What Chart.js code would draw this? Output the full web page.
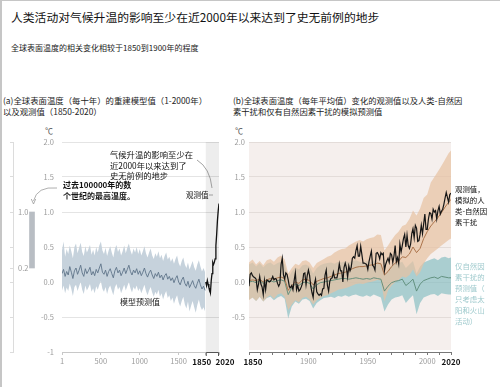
<!DOCTYPE html>
<html>
<head>
<meta charset="utf-8">
<script src="https://cdn.jsdelivr.net/npm/chart.js@4.4.1/dist/chart.umd.min.js"></script>
<style>
  html, body { margin: 0; padding: 0; background: #fff; }
  #page { position: relative; width: 500px; height: 387px; overflow: hidden;
          font-family: "Noto Sans CJK SC", "Noto Sans", sans-serif; color: #222; }
  .t { position: absolute; white-space: nowrap; }
  canvas { position: absolute; }
  #frame { position: absolute; left: 0; top: 0; width: 500px; height: 387px; box-sizing: border-box;
           border-left: 2px solid #c6c6c6; border-top: 1px solid #c6c6c6; pointer-events: none; }
</style>
</head>
<body>
<div id="page">
  <div class="t" style="left:11px;top:10px;font-size:11.8px;line-height:14px;color:#111;">人类活动对气候升温的影响至少在近2000年以来达到了史无前例的地步</div>
  <div class="t" style="left:11px;top:43px;font-size:8px;line-height:10px;color:#222;">全球表面温度的相关变化相较于1850到1900年的程度</div>

  <div class="t" style="left:3px;top:95px;font-size:8.4px;line-height:11px;color:#222;">(a)全球表面温度（每十年）的重建模型值（1-2000年）<br>以及观测值（1850-2020）</div>
  <div class="t" style="left:233px;top:95px;font-size:8.3px;line-height:11px;color:#222;">(b)全球表面温度（每年平均值）变化的观测值以及人类-自然因<br>素干扰和仅有自然因素干扰的模拟预测值</div>

  <div class="t" style="left:45px;top:126px;font-size:8px;line-height:10px;color:#555;">℃</div>
  <div class="t" style="left:235px;top:126px;font-size:8px;line-height:10px;color:#555;">℃</div>

  <canvas id="inset" width="51" height="250" style="left:0;top:120px;"></canvas>
  <canvas id="chartA" width="214" height="250" style="left:30px;top:120px;"></canvas>
  <canvas id="chartB" width="274" height="250" style="left:226px;top:120px;"></canvas>

  <div class="t" style="left:110px;top:149px;font-size:8.3px;line-height:10.5px;color:#111;">气候升温的影响至少在<br>近2000年以来达到了<br>史无前例的地步</div>
  <div class="t" style="left:63px;top:180px;font-size:8px;line-height:10.5px;color:#111;font-weight:bold;">过去100000年的数<br>个世纪的最高温度。</div>
  <div class="t" style="left:186px;top:190px;font-size:7.5px;line-height:10px;color:#111;">观测值</div>
  <div class="t" style="left:120px;top:297px;font-size:8px;line-height:10px;color:#222;">模型预测值</div>

  <div class="t" style="left:455px;top:183px;font-size:7.4px;line-height:11px;color:#111;">观测值，<br>模拟的人<br>类-自然因<br>素干扰</div>
  <div class="t" style="left:455px;top:260px;font-size:7.4px;line-height:11px;color:#9fcacd;">仅自然因<br>素干扰的<br>预测值（<br>只考虑太<br>阳和火山<br>活动）</div>

  <svg class="t" style="left:0;top:0;" width="500" height="387">
    <path d="M57,188 Q37,186 33.5,201" stroke="#9a9a9a" stroke-width="0.8" fill="none"/>
    <path d="M31.3,199 L33.5,204 L35.7,199" stroke="#9a9a9a" stroke-width="0.8" fill="none"/>
    <path d="M197,160 Q210,168 212,188" stroke="#8a8a8a" stroke-width="0.8" fill="none"/>
    <line x1="209" y1="195" x2="213" y2="195" stroke="#8a8a8a" stroke-width="0.8"/>
  </svg>
  <div id="frame"></div>
</div>

<script>
// ---- panel (a): reconstruction, 20-year steps starting at year 1 ----
const reconStart = 1;
const reconStep = 20;
const reconMean = [
  0.12, 0.18, 0.08, 0.15, 0.10, 0.22, 0.14, 0.05, 0.16, 0.20,
  0.11, 0.17, 0.24, 0.13, 0.08, 0.19, 0.12, 0.16, 0.21, 0.10,
  0.15, 0.09, 0.18, 0.13, 0.20, 0.26, 0.14, 0.11, 0.17, 0.08,
  0.15, 0.19, 0.12, 0.06, 0.16, 0.21, 0.13, 0.17, 0.09, 0.14,
  0.20, 0.12, 0.18, 0.24, 0.15, 0.10, 0.17, 0.13, 0.19, 0.11,
  0.16, 0.09, 0.14, 0.20, 0.12, 0.07, 0.13, 0.17, 0.10, 0.05,
  0.12, 0.08, 0.14, 0.06, 0.10, 0.03, 0.09, 0.12, 0.04, 0.08,
  0.02, 0.06, -0.01, 0.05, 0.09, 0.00, -0.04, 0.03, 0.07, -0.02,
  -0.06, 0.01, -0.08, -0.03, 0.02, -0.05, -0.09, -0.02, 0.04, -0.04,
  -0.10, -0.06, -0.12
];
const reconHigh = [
  0.45, 0.58, 0.36, 0.47, 0.40, 0.52, 0.44, 0.34, 0.50, 0.55,
  0.41, 0.49, 0.56, 0.43, 0.37, 0.51, 0.42, 0.47, 0.53, 0.39,
  0.46, 0.38, 0.50, 0.42, 0.52, 0.58, 0.45, 0.40, 0.49, 0.37,
  0.45, 0.51, 0.42, 0.35, 0.47, 0.53, 0.43, 0.48, 0.38, 0.44,
  0.52, 0.41, 0.49, 0.55, 0.45, 0.39, 0.48, 0.42, 0.50, 0.40,
  0.47, 0.38, 0.44, 0.51, 0.41, 0.35, 0.42, 0.48, 0.38, 0.33,
  0.41, 0.36, 0.44, 0.34, 0.39, 0.30, 0.37, 0.42, 0.32, 0.36,
  0.29, 0.34, 0.26, 0.33, 0.38, 0.27, 0.22, 0.30, 0.35, 0.25,
  0.20, 0.28, 0.18, 0.24, 0.30, 0.21, 0.16, 0.25, 0.31, 0.22,
  0.15, 0.20, 0.14
];
const reconLow = [
  -0.12, -0.05, -0.16, -0.08, -0.13, -0.02, -0.10, -0.20, -0.07, -0.04,
  -0.13, -0.06, 0.00, -0.11, -0.17, -0.05, -0.12, -0.08, -0.03, -0.14,
  -0.09, -0.16, -0.06, -0.11, -0.04, 0.01, -0.10, -0.14, -0.07, -0.17,
  -0.09, -0.05, -0.12, -0.19, -0.08, -0.03, -0.11, -0.07, -0.16, -0.10,
  -0.04, -0.12, -0.06, 0.00, -0.09, -0.15, -0.07, -0.11, -0.05, -0.13,
  -0.09, -0.16, -0.10, -0.04, -0.13, -0.19, -0.12, -0.07, -0.15, -0.21,
  -0.14, -0.18, -0.11, -0.21, -0.16, -0.25, -0.18, -0.13, -0.23, -0.19,
  -0.27, -0.22, -0.31, -0.24, -0.19, -0.29, -0.35, -0.27, -0.21, -0.32,
  -0.38, -0.28, -0.42, -0.34, -0.27, -0.36, -0.44, -0.33, -0.25, -0.35,
  -0.40, -0.36, -0.42
];
// observed, decadal, 1850..2020
const obsDecadeYears = [1850, 1860, 1870, 1880, 1890, 1900, 1910, 1920, 1930, 1940, 1950, 1960, 1970, 1980, 1990, 2000, 2010, 2020];
const obsDecade = [0.00, -0.05, 0.02, -0.03, -0.08, -0.10, -0.15, 0.02, 0.12, 0.28, 0.25, 0.28, 0.33, 0.52, 0.68, 0.88, 1.02, 1.12];

const aTicks = [1, 500, 1000, 1500, 1850, 2020];
const yTicks = [-1, -0.5, 0, 0.5, 1, 1.5, 2];
const insetTicks = [-1, -0.5, 0, 0.2, 0.5, 1, 1.5, 2];
const insetRange = [0.2, 1.0];

// ---- panel (b): annual observed, 1850..2020 ----
const obsStart = 1850;
const obsAnnual = [
  -0.06, 0.11, 0.13, 0.09, 0.07, 0.06, 0.04, -0.11, -0.03, 0.08,
  -0.03, -0.07, -0.18, 0.02, -0.11, 0.03, 0.02, 0.00, 0.01, 0.04,
  0.08, 0.03, 0.05, 0.04, -0.02, -0.06, -0.02, 0.25, 0.34, 0.10,
  0.04, 0.13, 0.11, 0.03, -0.07, -0.08, -0.05, -0.11, 0.02, 0.13,
  -0.11, -0.05, -0.13, -0.11, -0.07, -0.02, 0.12, 0.13, -0.04, 0.09,
  0.17, 0.09, -0.06, -0.15, -0.22, -0.03, 0.04, -0.14, -0.17, -0.19,
  -0.17, -0.19, -0.10, -0.09, 0.10, 0.17, -0.05, -0.13, 0.01, 0.05,
  0.06, 0.14, 0.06, 0.06, 0.06, 0.14, 0.26, 0.16, 0.16, 0.00,
  0.21, 0.27, 0.20, 0.07, 0.23, 0.16, 0.21, 0.34, 0.36, 0.34,
  0.45, 0.52, 0.37, 0.37, 0.51, 0.39, 0.27, 0.27, 0.26, 0.25,
  0.18, 0.29, 0.37, 0.44, 0.24, 0.22, 0.17, 0.41, 0.42, 0.39,
  0.33, 0.42, 0.39, 0.41, 0.16, 0.25, 0.30, 0.34, 0.28, 0.41,
  0.39, 0.28, 0.37, 0.52, 0.29, 0.35, 0.26, 0.54, 0.43, 0.52,
  0.62, 0.68, 0.50, 0.67, 0.52, 0.48, 0.54, 0.69, 0.76, 0.63,
  0.81, 0.77, 0.58, 0.59, 0.68, 0.81, 0.69, 0.83, 0.97, 0.75,
  0.75, 0.90, 0.99, 0.98, 0.90, 1.04, 1.00, 1.02, 0.90, 1.02,
  1.08, 0.97, 1.01, 1.04, 1.11, 1.20, 1.28, 1.21, 1.14, 1.25,
  1.27
];
const modelYears = [
  1850, 1853, 1856, 1859, 1862, 1865, 1868, 1871, 1874, 1877,
  1880, 1883, 1886, 1889, 1892, 1895, 1898, 1901, 1904, 1907,
  1910, 1913, 1916, 1919, 1922, 1925, 1928, 1931, 1934, 1937,
  1940, 1943, 1946, 1949, 1952, 1955, 1958, 1961, 1964, 1967,
  1970, 1973, 1976, 1979, 1982, 1985, 1988, 1991, 1994, 1997,
  2000, 2003, 2006, 2009, 2012, 2015, 2018, 2020
];
// human + natural simulation
const hnMean = [
  0.02, 0.03, 0.02, 0.04, 0.00, 0.03, 0.05, 0.04, 0.06, 0.07,
  0.05, -0.12, -0.05, 0.00, -0.02, 0.03, 0.04, 0.02, -0.04, 0.01,
  0.03, 0.05, 0.06, 0.08, 0.10, 0.12, 0.13, 0.14, 0.16, 0.19,
  0.21, 0.22, 0.22, 0.23, 0.24, 0.25, 0.27, 0.26, 0.10, 0.15,
  0.22, 0.27, 0.30, 0.36, 0.35, 0.40, 0.50, 0.42, 0.48, 0.62,
  0.72, 0.80, 0.86, 0.92, 0.99, 1.07, 1.14, 1.18
];
const hnHigh = [
  0.28, 0.32, 0.25, 0.30, 0.24, 0.31, 0.33, 0.29, 0.35, 0.38,
  0.32, 0.12, 0.20, 0.26, 0.24, 0.30, 0.31, 0.28, 0.20, 0.27,
  0.30, 0.33, 0.36, 0.38, 0.42, 0.45, 0.47, 0.48, 0.52, 0.55,
  0.58, 0.60, 0.58, 0.61, 0.63, 0.64, 0.68, 0.67, 0.45, 0.52,
  0.60, 0.67, 0.72, 0.80, 0.82, 0.90, 1.02, 0.95, 1.05, 1.20,
  1.25, 1.42, 1.50, 1.58, 1.66, 1.75, 1.84, 1.88
];
const hnLow = [
  -0.26, -0.22, -0.27, -0.21, -0.28, -0.22, -0.19, -0.24, -0.18, -0.16,
  -0.21, -0.40, -0.32, -0.26, -0.29, -0.23, -0.21, -0.25, -0.32, -0.26,
  -0.23, -0.20, -0.19, -0.16, -0.14, -0.11, -0.10, -0.09, -0.07, -0.05,
  -0.03, -0.02, -0.03, -0.01, 0.00, 0.01, 0.03, 0.02, -0.28, -0.12,
  -0.05, 0.00, 0.03, 0.08, 0.06, 0.10, 0.18, 0.08, 0.14, 0.26,
  0.34, 0.40, 0.44, 0.48, 0.52, 0.56, 0.60, 0.62
];
// natural-only simulation
const natMean = [
  0.00, 0.01, -0.01, 0.02, -0.02, 0.01, 0.02, 0.00, 0.02, 0.03,
  0.01, -0.18, -0.08, -0.03, -0.05, -0.01, 0.00, -0.02, -0.10, -0.04,
  -0.01, 0.00, 0.01, 0.02, 0.03, 0.04, 0.05, 0.05, 0.04, 0.05,
  0.06, 0.05, 0.04, 0.05, 0.04, 0.06, 0.05, 0.04, -0.13, -0.06,
  -0.01, 0.01, 0.02, 0.04, -0.05, -0.01, 0.04, -0.13, -0.03, 0.02,
  0.04, 0.06, 0.07, 0.05, 0.08, 0.07, 0.06, 0.06
];
const natHigh = [
  0.25, 0.28, 0.22, 0.27, 0.21, 0.26, 0.28, 0.24, 0.27, 0.29,
  0.25, 0.05, 0.15, 0.21, 0.18, 0.24, 0.25, 0.22, 0.12, 0.20,
  0.24, 0.26, 0.27, 0.28, 0.26, 0.29, 0.28, 0.30, 0.28, 0.30,
  0.31, 0.29, 0.28, 0.30, 0.28, 0.31, 0.29, 0.28, 0.10, 0.18,
  0.24, 0.26, 0.27, 0.29, 0.20, 0.25, 0.30, 0.12, 0.22, 0.28,
  0.30, 0.32, 0.34, 0.31, 0.35, 0.36, 0.34, 0.35
];
const natLow = [
  -0.25, -0.22, -0.27, -0.21, -0.28, -0.23, -0.21, -0.26, -0.22, -0.20,
  -0.24, -0.52, -0.35, -0.28, -0.31, -0.25, -0.24, -0.27, -0.38, -0.30,
  -0.26, -0.23, -0.22, -0.21, -0.23, -0.20, -0.21, -0.19, -0.21, -0.19,
  -0.18, -0.20, -0.21, -0.19, -0.21, -0.18, -0.20, -0.22, -0.42, -0.32,
  -0.25, -0.22, -0.21, -0.19, -0.30, -0.24, -0.19, -0.46, -0.30, -0.22,
  -0.20, -0.18, -0.17, -0.20, -0.16, -0.17, -0.18, -0.18
];
const bTicks = [1850, 1860, 1870, 1880, 1890, 1900, 1910, 1920, 1930, 1940, 1950, 1960, 1970, 1980, 1990, 2000, 2010, 2020];
const bLabelled = [1850, 1900, 1950, 2000, 2020];
const boldYears = [1850, 2020];

const FONT = '"Noto Sans CJK SC", "Noto Sans", sans-serif';
const reconYears = reconMean.map((_, i) => reconStart + i * reconStep);
const xy = (xs, ys) => ys.map((y, i) => ({x: xs[i], y: y}));
const obsYears = obsAnnual.map((_, i) => obsStart + i);

const tickFont = c => boldYears.includes(c.tick && c.tick.value)
  ? {family: FONT, size: 8, weight: 'bold'} : {family: FONT, size: 7.5};
const tickColor = c => boldYears.includes(c.tick && c.tick.value) ? '#111' : '#9a9a9a';

const base = {
  responsive: false, animation: false, devicePixelRatio: 1, events: [],
  plugins: {legend: {display: false}, tooltip: {enabled: false}}
};

// inset bar: highest centennial temperature of the last 100000 years
new Chart(document.getElementById('inset'), {
  type: 'bar',
  data: {labels: [''], datasets: [{data: [insetRange], backgroundColor: '#b8bdc3', barThickness: 5}]},
  options: {
    ...base,
    layout: {padding: {top: 22, bottom: 18, left: 0, right: 0}},
    scales: {
      x: {display: false},
      y: {
        min: -1, max: 2, position: 'left',
        afterBuildTicks: s => { s.ticks = insetTicks.map(v => ({value: v})); },
        afterFit: s => { s.width = 13; },
        border: {color: '#dcdcdc'},
        grid: {drawOnChartArea: false, tickLength: 3, color: '#dcdcdc'},
        ticks: {mirror: true, padding: 5, color: '#9a9a9a', font: {family: FONT, size: 7.5},
                callback: v => (v === 1 ? '1.0' : v === 0.2 ? '0.2' : '')}
      }
    }
  }
});

// panel (a)
const shadeA = {
  id: 'shadeA',
  beforeDatasetsDraw(chart) {
    const {ctx, chartArea: a, scales: {x}} = chart;
    const x0 = x.getPixelForValue(1850), x1 = x.getPixelForValue(2020);
    ctx.save();
    ctx.fillStyle = 'rgba(0,0,0,0.07)';
    ctx.fillRect(x0, a.top, x1 - x0, a.bottom - a.top);
    ctx.restore();
  },
  afterDraw(chart) {
    const {ctx, chartArea: a, scales: {x}} = chart;
    const x0 = x.getPixelForValue(1850), x1 = x.getPixelForValue(2020);
    ctx.save();
    ctx.strokeStyle = '#555';
    ctx.lineWidth = 1;
    ctx.beginPath();
    ctx.moveTo(x0 + 0.5, a.bottom + 4);
    ctx.lineTo(x0 + 0.5, a.bottom + 0.5);
    ctx.lineTo(x1 - 0.5, a.bottom + 0.5);
    ctx.lineTo(x1 - 0.5, a.bottom + 4);
    ctx.stroke();
    ctx.restore();
  }
};

new Chart(document.getElementById('chartA'), {
  type: 'line',
  data: {
    datasets: [
      {data: xy(obsDecadeYears, obsDecade), borderColor: '#111', borderWidth: 1.3, pointRadius: 0, fill: false},
      {data: xy(reconYears, reconMean), borderColor: '#5f7489', borderWidth: 0.9, pointRadius: 0, fill: false},
      {data: xy(reconYears, reconLow), borderWidth: 0, pointRadius: 0, fill: false},
      {data: xy(reconYears, reconHigh), borderWidth: 0, pointRadius: 0, fill: '-1', backgroundColor: '#c6d2dc'}
    ]
  },
  options: {
    ...base,
    layout: {padding: {top: 22, right: 25, left: 0, bottom: 0}},
    scales: {
      x: {
        type: 'linear', min: 1, max: 2020,
        afterBuildTicks: s => { s.ticks = aTicks.map(v => ({value: v})); },
        afterFit: s => { s.height = 18; },
        border: {color: '#c8c8c8'},
        grid: {drawOnChartArea: false, tickLength: 3, color: '#c8c8c8'},
        ticks: {autoSkip: false, maxRotation: 0, padding: 2, font: tickFont, color: tickColor,
                callback: v => (v === 1850 ? '1850\u2002\u2002' : v === 2020 ? '\u2002\u2002\u20022020' : String(v))}
      },
      y: {
        min: -1, max: 2,
        afterBuildTicks: s => { s.ticks = yTicks.map(v => ({value: v})); },
        afterFit: s => { s.width = 32; },
        border: {display: false},
        grid: {color: '#e4e4e4', drawTicks: false},
        ticks: {padding: 8, color: '#9a9a9a', font: {family: FONT, size: 7.5},
                callback: v => (v === -1 ? '-1' : v.toFixed(1))}
      }
    }
  },
  plugins: [shadeA]
});

// panel (b)
const bgB = {
  id: 'bgB',
  beforeDraw(chart) {
    const {ctx, chartArea: a} = chart;
    ctx.save();
    ctx.fillStyle = '#f5efed';
    ctx.fillRect(a.left, a.top, a.right - a.left, a.bottom - a.top - 2);
    ctx.restore();
  }
};

new Chart(document.getElementById('chartB'), {
  type: 'line',
  data: {
    datasets: [
      {data: xy(obsYears, obsAnnual), borderColor: '#151515', borderWidth: 1.2, pointRadius: 0, fill: false},
      {data: xy(modelYears, hnMean), borderColor: '#a56a40', borderWidth: 0.9, pointRadius: 0, fill: false},
      {data: xy(modelYears, natMean), borderColor: '#5a8a76', borderWidth: 0.9, pointRadius: 0, fill: false},
      {data: xy(modelYears, hnLow), borderWidth: 0, pointRadius: 0, fill: false},
      {data: xy(modelYears, hnHigh), borderWidth: 0, pointRadius: 0, fill: '-1', backgroundColor: 'rgba(232,194,162,0.72)'},
      {data: xy(modelYears, natLow), borderWidth: 0, pointRadius: 0, fill: false},
      {data: xy(modelYears, natHigh), borderWidth: 0, pointRadius: 0, fill: '-1', backgroundColor: 'rgba(125,185,190,0.62)'}
    ]
  },
  options: {
    ...base,
    layout: {padding: {top: 22, right: 49, left: 0, bottom: 0}},
    scales: {
      x: {
        type: 'linear', min: 1850, max: 2020,
        afterBuildTicks: s => { s.ticks = bTicks.map(v => ({value: v})); },
        afterFit: s => { s.height = 18; },
        border: {color: '#777'},
        grid: {drawOnChartArea: false, tickLength: 3, color: '#777'},
        ticks: {autoSkip: false, maxRotation: 0, padding: 2, font: tickFont, color: tickColor,
                callback: v => (!bLabelled.includes(v) ? '' : v === 1850 ? '\u2002\u20021850' : String(v))}
      },
      y: {
        min: -1, max: 2,
        afterBuildTicks: s => { s.ticks = yTicks.map(v => ({value: v})); },
        afterFit: s => { s.width = 23; },
        border: {display: false},
        grid: {color: '#e3dcd9', drawTicks: false},
        ticks: {padding: 4, color: '#9a9a9a', font: {family: FONT, size: 7.5},
                callback: v => (v === -1 ? '' : v.toFixed(1))}
      }
    }
  },
  plugins: [bgB]
});
</script>
</body>
</html>
